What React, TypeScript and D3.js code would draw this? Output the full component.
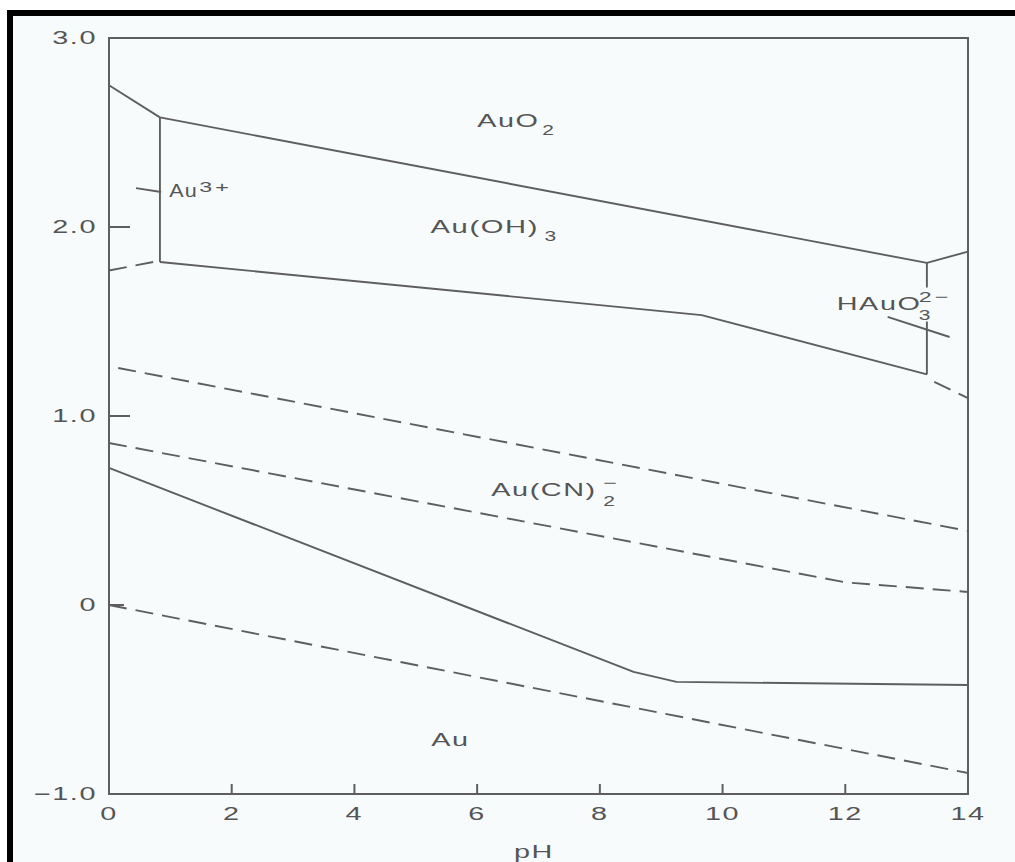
import React from "react";
import * as d3 from "d3";

// ---- data (pH, E in volts) ----
const PH_TICKS = [0, 2, 4, 6, 8, 10, 12, 14];
const PH_TICK_LABELS = ["0", "2", "4", "6", "8", "10", "12", "14"];
const E_TICKS = [3.0, 2.0, 1.0, 0, -1.0];
const E_TICK_LABELS = ["3.0", "2.0", "1.0", "0", "\u22121.0"];
const E_INNER_TICKS = [2.0, 1.0, 0];
const PH_INNER_TICKS = [2, 4, 6, 8, 10, 12];

const upperAuO2: [number, number][] = [[0, 2.75], [0.83, 2.58], [13.33, 1.81], [14, 1.87]];
const au3Vertical: [number, number][] = [[0.83, 2.58], [0.83, 1.815]];
const lowerAuOH3: [number, number][] = [[0.83, 1.815], [9.66, 1.534], [13.33, 1.22]];
const hauoVerticalTop: [number, number][] = [[13.33, 1.81], [13.33, 1.68]];
const hauoVerticalBottom: [number, number][] = [[13.33, 1.5], [13.33, 1.22]];
const au3DashLeft: [number, number][] = [[0, 1.77], [0.72, 1.815]];
const hauoDashRight: [number, number][] = [[13.45, 1.18], [14, 1.095]];
const o2Line: [number, number][] = [[0.15, 1.254], [14, 0.392]];
const cnUpper: [number, number][] = [[0, 0.857], [12.0, 0.12], [14, 0.069]];
const auCnSolid: [number, number][] = [[0, 0.725], [8.55, -0.354], [9.25, -0.407], [14, -0.423]];
const h2Line: [number, number][] = [[0, 0], [14, -0.889]];
const au3Pointer: [number, number][] = [[0.44, 2.206], [0.85, 2.185]];
const hauoPointer: [number, number][] = [[12.69, 1.524], [13.7, 1.418]];

const SOLID_LINES = [upperAuO2, au3Vertical, lowerAuOH3, hauoVerticalTop, hauoVerticalBottom, auCnSolid, au3Pointer, hauoPointer];
const DASHED_LINES = [au3DashLeft, hauoDashRight, o2Line, cnUpper, h2Line];

// region labels: main text, superscript, subscript, anchor (pH, E)
const LABEL_TEXT = ["AuO", "Au(OH)", "Au(CN)", "Au", "Au", "HAuO"];
const LABEL_SUP = ["", "", "\u2212", "", "3+", "2\u2212"];
const LABEL_SUB = ["2", "3", "2", "", "", "3"];
const LABEL_PH = [6.0, 5.24, 6.23, 5.25, 0.98, 11.86];
const LABEL_E = [2.529, 1.968, 0.577, -0.746, 2.159, 1.561];
// layout (style) for sup/sub offsets and horizontal stretch
const LABEL_DX = [65, 114, 112, 0, 30, 82];
const LABEL_SX = [1.6, 1.62, 1.6, 1.6, 1.2, 1.6];

const W = 1015;
const H = 862;
const LINE = "#5e5e5e";
const TEXT = "#555555";

export default function App() {
  const x = d3.scaleLinear().domain([0, 14]).range([109, 968]);
  const y = d3.scaleLinear().domain([-1, 3]).range([794, 38]);
  const line = d3
    .line<[number, number]>()
    .x((d) => x(d[0]))
    .y((d) => y(d[1]));

  const txt = (px: number, py: number, s: string, opts: any = {}) => (
    <text
      key={`${s}-${px}-${py}`}
      transform={`translate(${px},${py}) scale(${opts.sx ?? 1.6},1)`}
      fontFamily="'Liberation Sans', Arial, sans-serif"
      fontSize={opts.fs ?? 18}
      letterSpacing={opts.ls ?? 1}
      fill={TEXT}
      textAnchor={opts.anchor ?? "start"}
    >
      {s}
    </text>
  );

  return (
    <svg width={W} height={H} style={{ position: "absolute", left: 0, top: 0 }}>
      <rect x={0} y={0} width={W} height={H} fill="#ffffff" />
      <rect x={13} y={16} width={W - 13} height={H - 16} fill="#f8fbfc" />
      {/* black scan border */}
      <rect x={7} y={10} width={W - 7} height={6} fill="#000" />
      <rect x={7} y={10} width={6} height={H - 10} fill="#000" />

      {/* frame */}
      <rect
        x={x(0)}
        y={y(3)}
        width={x(14) - x(0)}
        height={y(-1) - y(3)}
        fill="none"
        stroke={LINE}
        strokeWidth={2}
      />
      {/* inner ticks */}
      {E_INNER_TICKS.map((e) => (
        <line key={`et${e}`} x1={x(0)} x2={x(0) + (e === 0 ? 15 : 21)} y1={y(e)} y2={y(e)} stroke={LINE} strokeWidth={2} />
      ))}
      {PH_INNER_TICKS.map((p) => (
        <line key={`pt${p}`} x1={x(p)} x2={x(p)} y1={y(-1)} y2={y(-1) - 10} stroke={LINE} strokeWidth={2} />
      ))}
      {/* tick labels */}
      {E_TICKS.map((e, i) => txt(97, y(e) + 6, E_TICK_LABELS[i], { anchor: "end" }))}
      {PH_TICKS.map((p, i) => txt(x(p), 820, PH_TICK_LABELS[i], { anchor: "middle" }))}
      {txt(534, 858, "pH", { anchor: "middle" })}

      {/* boundaries */}
      {SOLID_LINES.map((d, i) => (
        <path key={`s${i}`} d={line(d) ?? ""} fill="none" stroke={LINE} strokeWidth={1.9} strokeLinejoin="round" />
      ))}
      {DASHED_LINES.map((d, i) => (
        <path key={`d${i}`} d={line(d) ?? ""} fill="none" stroke={LINE} strokeWidth={1.9} strokeDasharray="18 9" />
      ))}

      {/* region labels */}
      {LABEL_TEXT.map((t, i) => {
        const px = x(LABEL_PH[i]);
        const py = y(LABEL_E[i]);
        const stacked = LABEL_SUP[i] !== "" && LABEL_SUB[i] !== "";
        return (
          <g key={`lab${i}`}>
            {txt(px, py, t, { sx: LABEL_SX[i] })}
            {LABEL_SUP[i] !== "" &&
              txt(px + LABEL_DX[i], py - (stacked ? 8 : 5), LABEL_SUP[i], { fs: 15, sx: 1.55, ls: 2 })}
            {LABEL_SUB[i] !== "" &&
              txt(px + LABEL_DX[i], py + (stacked ? 10 : 8), LABEL_SUB[i], { fs: 15, sx: 1.4, ls: 1 })}
          </g>
        );
      })}
    </svg>
  );
}
